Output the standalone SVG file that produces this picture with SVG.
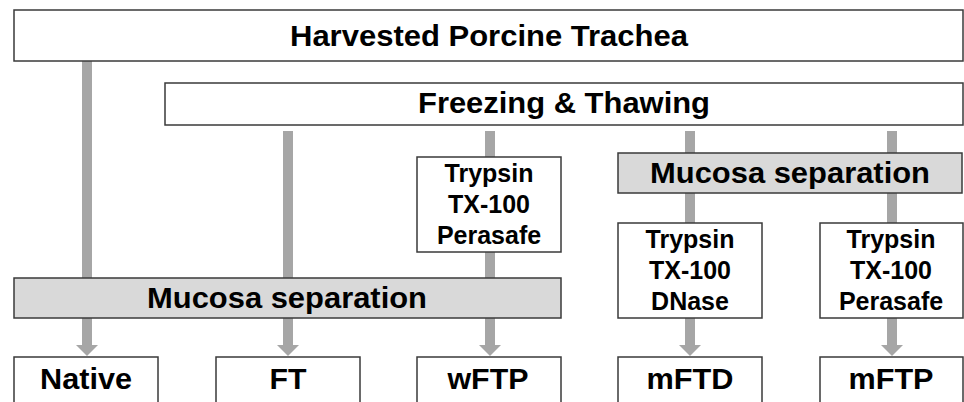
<svg xmlns="http://www.w3.org/2000/svg" width="964" height="402" viewBox="0 0 964 402">
<style>
  .box { fill: #ffffff; stroke: #3a3a3a; stroke-width: 1.5; }
  .gray { fill: #d9d9d9; stroke: #3a3a3a; stroke-width: 1.5; }
  .big { font-family: "Liberation Sans", Arial, sans-serif; font-weight: bold; font-size: 29px; fill: #000; text-anchor: middle; }
  .small { font-family: "Liberation Sans", Arial, sans-serif; font-weight: bold; font-size: 25px; fill: #000; text-anchor: middle; }
  .bar { stroke: #a6a6a6; stroke-width: 10; fill: none; }
</style>
<defs>
  <marker id="arrow" viewBox="0 -11 11 22" refX="0" refY="0" markerWidth="11" markerHeight="22" markerUnits="userSpaceOnUse" orient="auto">
    <path d="M0,-11 L11,0 L0,11 Z" fill="#a6a6a6"/>
  </marker>
</defs>
<rect width="964" height="402" fill="#ffffff"/>
<g id="connectors">
  <line class="bar" x1="87" y1="61" x2="87" y2="345" marker-end="url(#arrow)"/>
  <line class="bar" x1="288" y1="131" x2="288" y2="345" marker-end="url(#arrow)"/>
  <line class="bar" x1="490" y1="131" x2="490" y2="345" marker-end="url(#arrow)"/>
  <line class="bar" x1="690" y1="131" x2="690" y2="345" marker-end="url(#arrow)"/>
  <line class="bar" x1="892" y1="131" x2="892" y2="345" marker-end="url(#arrow)"/>
</g>
<g id="harvested">
  <rect class="box" x="14" y="10" width="949" height="51"/>
  <text class="big" x="489" y="46" textLength="398" lengthAdjust="spacingAndGlyphs">Harvested Porcine Trachea</text>
</g>
<g id="freezing">
  <rect class="box" x="165" y="83" width="798" height="42"/>
  <text class="big" x="564" y="113" textLength="292" lengthAdjust="spacingAndGlyphs">Freezing &amp; Thawing</text>
</g>
<g id="treat-wftp">
  <rect class="box" x="417" y="157" width="144" height="95"/>
  <text class="small" x="489" y="182">Trypsin</text>
  <text class="small" x="489" y="213">TX-100</text>
  <text class="small" x="489" y="244">Perasafe</text>
</g>
<g id="mucosa-upper">
  <rect class="gray" x="618" y="153" width="344" height="40"/>
  <text class="big" x="790" y="183" textLength="280" lengthAdjust="spacingAndGlyphs">Mucosa separation</text>
</g>
<g id="treat-mftd">
  <rect class="box" x="618" y="223" width="144" height="95"/>
  <text class="small" x="690" y="248">Trypsin</text>
  <text class="small" x="690" y="279">TX-100</text>
  <text class="small" x="690" y="310">DNase</text>
</g>
<g id="treat-mftp">
  <rect class="box" x="820" y="223" width="143" height="95"/>
  <text class="small" x="891" y="248">Trypsin</text>
  <text class="small" x="891" y="279">TX-100</text>
  <text class="small" x="891" y="310">Perasafe</text>
</g>
<g id="mucosa-lower">
  <rect class="gray" x="14" y="278" width="547" height="40"/>
  <text class="big" x="287" y="308" textLength="280" lengthAdjust="spacingAndGlyphs">Mucosa separation</text>
</g>
<g id="native">
  <rect class="box" x="14" y="357" width="144" height="60"/>
  <text class="big" x="86" y="389" textLength="92" lengthAdjust="spacingAndGlyphs">Native</text>
</g>
<g id="ft">
  <rect class="box" x="216" y="357" width="144" height="60"/>
  <text class="big" x="288" y="389" textLength="37" lengthAdjust="spacingAndGlyphs">FT</text>
</g>
<g id="wftp">
  <rect class="box" x="417" y="357" width="144" height="60"/>
  <text class="big" x="488" y="389" textLength="81" lengthAdjust="spacingAndGlyphs">wFTP</text>
</g>
<g id="mftd">
  <rect class="box" x="618" y="357" width="144" height="60"/>
  <text class="big" x="690" y="389" textLength="87" lengthAdjust="spacingAndGlyphs">mFTD</text>
</g>
<g id="mftp">
  <rect class="box" x="820" y="357" width="143" height="60"/>
  <text class="big" x="891" y="389" textLength="85" lengthAdjust="spacingAndGlyphs">mFTP</text>
</g>
</svg>
